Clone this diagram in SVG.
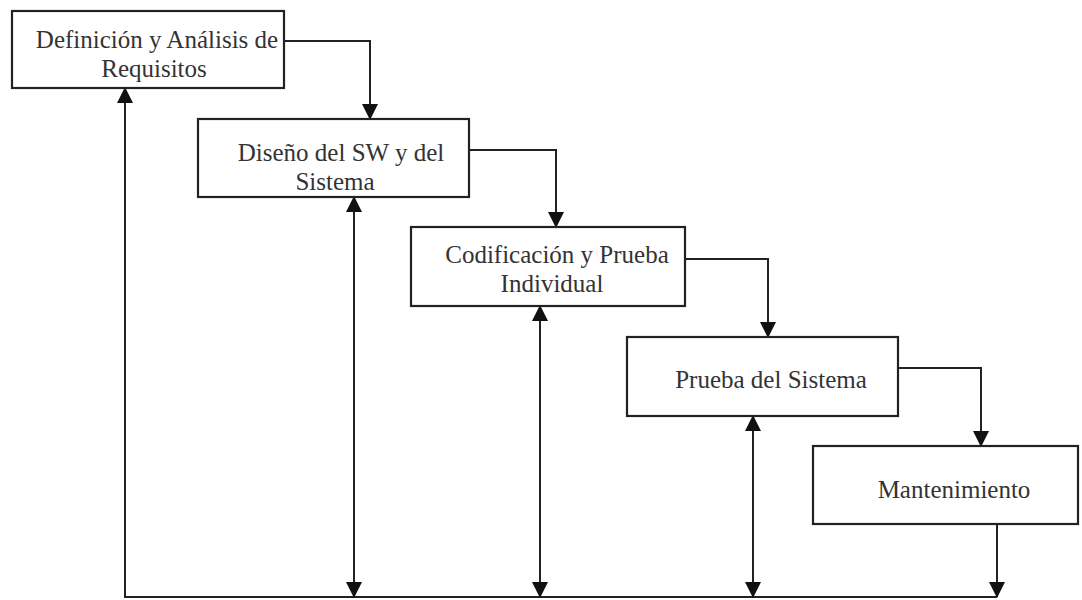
<svg xmlns="http://www.w3.org/2000/svg" width="1082" height="600" viewBox="0 0 1082 600">
<defs>
<style>
.box{fill:#fff;stroke:#222;stroke-width:2.2}
.lbl{font-family:"Liberation Serif","Times New Roman",serif;font-size:25px;fill:#333;text-anchor:middle}
.ln{fill:none;stroke:#222;stroke-width:2}
</style>
<marker id="ah" viewBox="0 0 16 16" refX="15" refY="8" markerWidth="16" markerHeight="16" markerUnits="userSpaceOnUse" orient="auto-start-reverse">
<path d="M0,0 L16,8 L0,16 Z" fill="#111"/>
</marker>
</defs>
<rect width="1082" height="600" fill="#fff"/>
<g id="connectors">
<path class="ln" d="M284,41 H370 V119" marker-end="url(#ah)"/>
<path class="ln" d="M469,150 H556 V227" marker-end="url(#ah)"/>
<path class="ln" d="M685,259 H768 V337" marker-end="url(#ah)"/>
<path class="ln" d="M898,368 H981 V446" marker-end="url(#ah)"/>
<path class="ln" d="M997,524 V597" marker-end="url(#ah)"/>
<path class="ln" d="M997,597 H125 V88" marker-end="url(#ah)"/>
<path class="ln" d="M354,197 V597" marker-start="url(#ah)" marker-end="url(#ah)"/>
<path class="ln" d="M540,306 V597" marker-start="url(#ah)" marker-end="url(#ah)"/>
<path class="ln" d="M753,416 V597" marker-start="url(#ah)" marker-end="url(#ah)"/>
</g>
<g id="n1">
<rect class="box" x="12" y="11" width="272" height="77"/>
<text class="lbl" x="157" y="48">Definición y Análisis de</text>
<text class="lbl" x="154" y="77">Requisitos</text>
</g>
<g id="n2">
<rect class="box" x="198" y="119" width="271" height="78"/>
<text class="lbl" x="341" y="161">Diseño del SW y del</text>
<text class="lbl" x="335" y="190">Sistema</text>
</g>
<g id="n3">
<rect class="box" x="411" y="227" width="274" height="79"/>
<text class="lbl" x="557" y="263">Codificación y Prueba</text>
<text class="lbl" x="552" y="292">Individual</text>
</g>
<g id="n4">
<rect class="box" x="627" y="337" width="271" height="79"/>
<text class="lbl" x="771" y="388">Prueba del Sistema</text>
</g>
<g id="n5">
<rect class="box" x="813" y="446" width="265" height="78"/>
<text class="lbl" x="954" y="498">Mantenimiento</text>
</g>
</svg>
